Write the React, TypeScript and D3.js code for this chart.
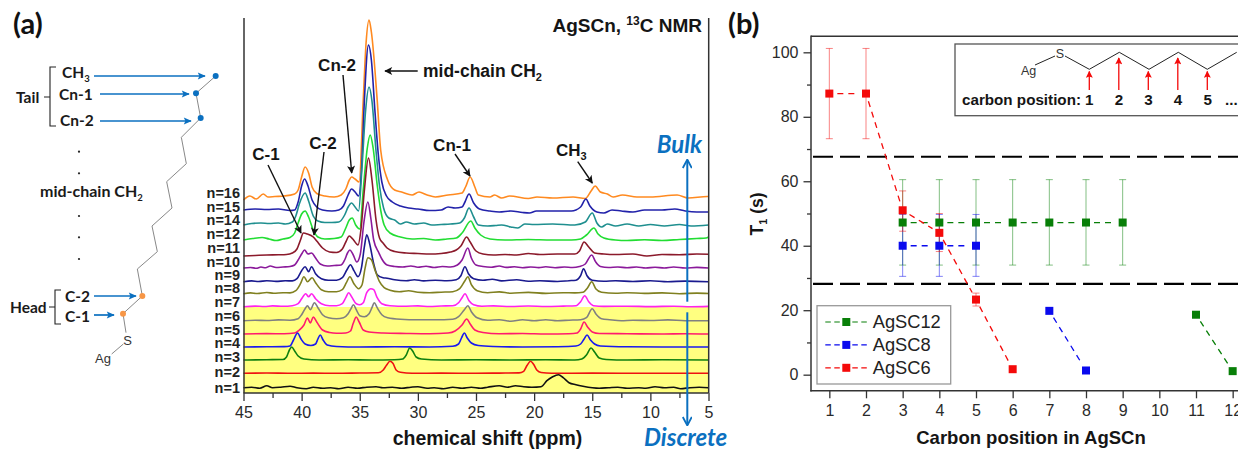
import React, { useEffect, useRef } from 'react';
import * as d3 from 'd3';

// ---- panel (a): 13C NMR spectra, [ppm, intensity above own baseline] ----
const n1 = [[45,0],[44.3,0.5],[43.6,-0.5],[43,2],[42.5,0],[41.8,0.5],[41,1.5],[40.4,0],[39.6,-1],[39,0.5],[38.2,-0.5],[37.5,0],[36.8,-1],[36,0.5],[35.2,-0.5],[34.4,0.5],[33.6,1],[33,0],[32.2,0.5],[31.4,-0.5],[30.6,0.5],[30,1],[29.2,-0.5],[28.6,0],[27.8,-1],[27,0.5],[26.2,-0.5],[25.4,0.5],[24.6,-0.5],[24,0.5],[23,2],[22.3,0.5],[21.6,2],[20.9,1],[20.2,0.5],[19.4,1],[18.9,7],[18.4,11],[17.9,13],[17.5,10],[17,5],[16.4,3],[15.8,1.5],[15,0],[14.4,-0.5],[13.6,0],[12.8,0.5],[12,-0.5],[11,0],[10.4,-0.5],[9.6,1],[8.8,0],[8,0.5],[7.4,-1],[6.6,0],[5.8,0.5],[5,0]];
const n2 = [[45,0],[43,0.3],[41,0],[39,0.2],[37,0],[35,0.3],[33.4,0.5],[33,3],[32.7,8],[32.4,12],[32.15,10],[31.85,3],[31.5,1],[30.5,0],[28,0.2],[25,0],[23,0.2],[21.3,0.4],[20.9,2],[20.6,8],[20.3,12],[20.05,9],[19.75,3],[19.4,0.8],[18.5,0],[15,0.2],[10,0],[5,0]];
const n3 = [[45,0],[43,0.3],[41.6,0.5],[41.3,3],[41.05,10],[40.85,13],[40.6,9],[40.3,4],[39.8,1],[38.5,0],[36,0.2],[34,0],[32,0.3],[31.3,1],[31,5],[30.7,12],[30.45,9],[30.15,3],[29.7,1],[28,0],[25,0.2],[22,0],[19,0.3],[16.5,0],[15.9,1],[15.5,5],[15.1,12],[14.8,8],[14.4,2],[13.8,0.5],[12,0],[9,0.2],[5,0]];
const n4 = [[45,0],[43,0.2],[41.5,0.4],[41,1],[40.7,7],[40.35,14],[40.05,8],[39.7,3],[39.2,1.5],[38.8,3],[38.6,8],[38.4,12],[38.15,7],[37.8,2],[37,0.5],[35,0],[32,0.2],[29,0],[27,0.8],[26.5,3],[26.25,9],[26,14],[25.75,9],[25.4,4],[24.8,1.5],[23.5,0.5],[21,0],[18,0.3],[16.4,1],[16,3],[15.7,8],[15.45,12],[15.15,7],[14.8,3],[14.3,1],[12,0.2],[9,0],[5,0]];
const n5 = [[45,0],[43,0.4],[41.5,0.2],[40.6,1],[40.2,4],[39.8,9],[39.5,16],[39.25,11],[39,17],[38.7,12],[38.2,4],[37.6,1.5],[37,0.8],[36.2,1],[35.8,3],[35.55,11],[35.3,17],[35.05,12],[34.7,4],[34.2,2],[33,1],[31,0.5],[29,0.2],[27.4,1],[26.8,3],[26.2,9],[25.8,15],[25.5,10],[25.1,4],[24.4,1.5],[23,0.3],[21,0.5],[19,0],[17,0.3],[16.3,1],[16,5],[15.7,12],[15.4,7],[15,2],[14.4,0.5],[12,0.3],[9,0],[7,0.3],[5,0]];
const n6 = [[45,0],[44,0.5],[43,0.2],[42,0.8],[41,0.5],[40.3,2],[40,6],[39.7,12],[39.5,15],[39.25,11],[38.9,18],[38.6,13],[38.2,6],[37.7,3],[37,2],[36.4,3],[36,7],[35.75,12],[35.55,16],[35.3,11],[35,5],[34.6,4],[34.2,7],[33.95,13],[33.75,18],[33.5,13],[33.1,6],[32.6,3],[31.5,1.5],[30,1],[28.5,1],[27,1.5],[26.5,4],[26,11],[25.7,15],[25.4,9],[24.9,3],[24,0.5],[23,1],[22,-0.5],[21,1],[20,0],[19,1],[18,0],[17,0.5],[16,1],[15.5,3],[15,12],[14.7,7],[14.2,2],[13.5,1],[12.5,0],[11.5,0.5],[10,0.2],[8.5,0.8],[7,0],[5,0]];
const n7 = [[45,0],[44,0.6],[43.2,0.2],[42.5,0.8],[41.6,0.4],[40.8,1],[40.3,3],[40,8],[39.65,13],[39.4,10],[39.15,13],[38.8,8],[38.3,3],[37.6,1],[37,1],[36.5,3],[36.2,9],[35.95,14],[35.7,10],[35.3,3],[35,2],[34.7,4],[34.4,14],[34.2,17],[34.05,18],[33.8,17],[33.5,9],[33.1,3],[32.4,1],[31,0.5],[30,0.8],[29,0.2],[28,0.7],[27,1],[26.5,4],[26.2,9],[25.95,13],[25.6,6],[25.2,2],[24.5,0.5],[23.5,0.8],[22,0.2],[20.5,0.7],[19,0.2],[17.5,0.6],[16.4,1],[16,5],[15.65,11],[15.3,5],[14.9,1],[14,0.3],[12,0.5],[10,0.1],[8,0.5],[6.5,0],[5,0.3]];
const n8 = [[45,0],[44.4,0.8],[43.8,0.2],[43,1.2],[42.4,0.4],[41.6,1],[41,0.8],[40.5,3],[40.1,10],[39.8,17],[39.5,12],[39.1,16],[38.8,11],[38.3,4],[37.7,2],[37,2],[36.5,4],[36.15,11],[35.85,17],[35.5,10],[35.1,5],[34.8,9],[34.55,25],[34.3,36],[34,34],[33.7,24],[33.3,12],[32.9,6],[32.4,3.5],[31.6,2],[30.8,3],[30,1.5],[29,1],[28,1.5],[27,2],[26.4,5],[25.95,13],[25.7,17],[25.4,9],[24.9,3],[24,1],[23,1.8],[22,0.5],[20.5,1.3],[19,0.3],[17.5,1],[16.5,0.8],[15.8,1.5],[15.4,6],[15.05,12],[14.7,5],[14.2,1.5],[13,0.5],[12,1],[10.5,0.3],[9,0.8],[7.5,0],[6,0.6],[5,0.2]];
const n9 = [[45,0],[44.3,0.8],[43.7,0.2],[43,1],[42.2,0.3],[41.4,0.9],[40.8,0.8],[40.4,3],[40,11],[39.7,15],[39.4,10],[39.15,15],[38.8,8],[38.3,3],[37.7,1.5],[37,1.5],[36.5,4],[36.1,12],[35.8,17],[35.5,11],[35.15,5],[34.85,14],[34.6,35],[34.4,47],[34.15,38],[33.8,18],[33.5,7],[33,4],[32.65,3.5],[32,2],[31,1],[30.3,2],[29.5,0.8],[28.5,1.5],[27.5,1],[26.7,2],[26.3,6],[25.95,15],[25.65,8],[25.2,3],[24.4,1.5],[23.6,2.5],[22.8,0.8],[21.5,2],[20.5,0.5],[19.5,1],[18,0.2],[17,1],[16.4,1.5],[16,6],[15.75,13],[15.45,6],[15,1.5],[14,0.5],[13,1],[11.5,0.2],[10,1],[8.5,0],[7,0.6],[5,0]];
const n10 = [[45,0],[44.4,0.5],[43.9,-0.3],[43.5,1],[43.1,0.2],[42.7,2],[42.2,0.5],[41.6,1],[41,1.5],[40.6,3],[40.3,8],[40,14],[39.75,18],[39.45,14],[39.15,15],[38.8,10],[38.4,4],[37.8,2],[37.2,2.5],[36.6,3],[36.3,8],[36.05,15],[35.85,18],[35.6,14],[35.25,6],[34.95,14],[34.65,45],[34.3,66],[34.05,50],[33.8,28],[33.35,15],[33.1,9],[32.65,3],[32,1.5],[31.3,1],[30.6,2],[30,0.8],[29.3,1.8],[28.6,0.5],[27.9,1.5],[27.2,1],[26.6,3],[26.2,8],[25.7,20],[25.4,10],[25,3],[24.4,1.5],[23.7,0.8],[23,2],[22.4,0.6],[21.7,1.2],[21,0.3],[20.3,1],[19.6,0.4],[19,1.2],[18.2,0.3],[17.4,1],[16.7,0.5],[16.1,1.5],[15.6,4],[15.05,13],[14.7,6],[14.3,1.5],[13.6,0.5],[12.8,1],[12,0.3],[11.2,1],[10.4,0],[9.6,0.8],[8.8,0],[8,1],[7,0],[6,0.6],[5,0]];
const n11 = [[45,-1],[44,-0.5],[43,0],[42,0.2],[41.3,0.5],[40.8,2],[40.4,6],[40.1,15],[39.85,22],[39.5,21],[39,18],[38.7,14],[38.2,7],[37.6,3],[37,2.5],[36.5,6],[36.2,13],[35.9,19],[35.6,16],[35.15,10],[34.9,25],[34.6,65],[34.25,97],[33.95,75],[33.6,35],[33.3,17],[33,12],[32.65,7],[32,3.5],[31,2],[30,1.5],[29,1],[28,1.5],[27.2,3],[26.7,5],[26.3,9],[25.8,18],[25.5,13],[25,4],[24.4,1],[23.5,0],[22.5,0.5],[21.5,0],[20.5,1.5],[19.5,0.5],[18,1],[16.5,1],[16.1,4],[15.7,13],[15.3,8],[14.8,2],[14,1],[13,0.5],[11.5,1],[10.3,-1],[9,0.5],[7.5,0.3],[6,1],[5,0.8]];
const n12 = [[45,0],[44.2,1.5],[43.4,2.5],[42.8,1],[42.2,-0.5],[41.6,1],[41,2.5],[40.6,7],[40.3,17],[40,26],[39.7,29],[39.4,23],[39,10],[38.6,3],[38,1],[37.2,1.5],[36.6,3],[36.2,12],[35.9,20],[35.65,22],[35.35,15],[35,11],[34.7,50],[34.35,92],[34.1,105],[33.85,92],[33.5,55],[33.2,30],[32.9,15],[32.4,7],[31.5,3],[30.5,1],[29.5,1.5],[28.5,0],[27.5,1],[26.7,2],[26.2,7],[25.45,19],[25.1,12],[24.6,5],[23.8,1],[22.5,0],[20.5,0.5],[18.5,0],[16.8,0],[16,1],[15.5,5],[14.85,12],[14.5,6],[14,2],[13,0],[12,-0.5],[10.5,0.3],[9,-0.5],[7.5,0.5],[6,1.5],[5.2,2],[5,3]];
const n14 = [[45,1],[44.3,2.5],[43.5,3],[42.8,2.5],[42,3],[41.4,2],[40.8,4],[40.5,10],[40.2,22],[39.7,33],[39.4,25],[39,10],[38.6,5],[38,3.5],[37.4,3.5],[36.8,4],[36.3,11],[36,19],[35.7,23],[35.4,19],[35.1,15],[34.8,60],[34.5,115],[34.2,139],[33.95,125],[33.6,75],[33.3,40],[32.95,18],[32.5,8],[32,6],[31.5,2],[31,4],[30.3,2],[29.5,3],[28.8,1],[28,1.5],[27.2,2],[26.4,3],[26,8],[25.6,18],[25.2,9],[24.8,1],[24,0],[23.3,0.5],[22.8,1],[22,-1],[21.4,-2],[20.8,2],[20,1.5],[18.4,2],[16.5,1],[15.6,4],[15,13],[14.6,3],[14.2,-1],[13.7,2],[13,0],[12,2],[11,0],[10,1.5],[8.8,0],[7.5,1.5],[6.5,0],[5,1]];
const n15 = [[45,0],[44,1],[43,0.5],[42,1],[41,-0.5],[40.6,0],[40.3,8],[40,24],[39.75,31],[39.45,24],[39.1,10],[38.7,3],[38.2,0],[37.4,-1],[36.8,0],[36.4,4],[36,15],[35.7,21],[35.4,18],[35.1,14],[34.85,40],[34.6,110],[34.25,165],[34,150],[33.7,100],[33.4,55],[33.1,28],[32.7,14],[32.2,8],[31.5,4],[30.8,2],[30,1],[29,-0.5],[28,0],[27.4,3],[26.8,2],[26.2,3],[25.95,8],[25.6,16],[25.2,7],[24.7,1],[23.8,-1],[23,-2],[22,-1],[21,-2.5],[20.4,-3],[19.8,-1],[18.5,-1],[16.8,-1],[16,3],[15.55,11],[15.2,4],[14.6,-2],[14,-3],[13.3,0],[12.5,-1],[11.5,-2],[10.5,0],[9,0],[7.9,1],[7,-1],[6,-2],[5,-2]];
const n16 = [[45,-3],[44.45,1],[43.9,-2],[43.3,3],[42.9,0],[42.3,0.5],[41.5,1],[40.6,3],[40.3,7],[40,20],[39.7,30],[39.4,24],[39.1,10],[38.7,3.5],[38,1],[37.2,0],[36.6,2],[36.2,8],[35.9,17],[35.7,20],[35.4,18],[35.05,15],[34.7,97],[34.45,155],[34.2,177],[34,165],[33.5,97],[33.2,47],[32.6,17],[32,7],[31.4,5],[30.5,2],[29.9,5],[29.2,2],[28.5,0],[27.4,2],[26.2,4],[25.9,10],[25.5,20],[25.1,10],[24.8,2],[23.8,0],[23.4,2],[22.8,-1],[22.1,1],[20.5,-1.5],[19.75,0],[18.4,-1],[16.65,0],[15.6,-1.5],[15.1,6],[14.75,11],[14.3,5],[13.7,3],[13.2,0],[12.4,2],[11.15,0],[10,0],[7.7,2],[6.75,-1],[5.1,0.5],[5,0.5]];

const spectra = [n1, n2, n3, n4, n5, n6, n7, n8, n9, n10, n11, n12, n14, n15, n16];
const spectrumNames = ['n=1', 'n=2', 'n=3', 'n=4', 'n=5', 'n=6', 'n=7', 'n=8', 'n=9', 'n=10', 'n=11', 'n=12', 'n=14', 'n=15', 'n=16'];
const spectrumOffsets = [0, 14.4, 27.7, 40.7, 53.7, 67, 81, 94, 106, 119.7, 132.7, 147.7, 161.7, 177.7, 190.7];
const labelLift = [0, 1.6, 2.7, 3.7, 4, 4.7, 5, 5.4, 6.7, 5.7, 7.3, 6, 6, 3.3, 4.3];
const spectrumColors = ['#111111', '#ee1111', '#0f7f0f', '#1a1aee', '#ff1a6e', '#808080', '#ff22ee', '#808020', '#1a1a8f', '#8b1a9b', '#8b1a2b', '#22dd33', '#1f8f8f', '#2222aa', '#ff8a20'];
const ppmMajor = [45, 40, 35, 30, 25, 20, 15, 10, 5];
const ppmMinor = [42.5, 37.5, 32.5, 27.5, 22.5, 17.5, 12.5, 7.5];

// ---- panel (b): T1 against carbon position ----
type Pt = { c: number; t: number; lo?: number; hi?: number };
const agsc12: Pt[][] = [
  [3, 4, 5, 6, 7, 8, 9].map(c => ({ c, t: 47.2, lo: 34, hi: 60.5 })),
  [{ c: 11, t: 18.6 }, { c: 12, t: 1.1 }],
];
const agsc8: Pt[][] = [
  [3, 4, 5].map(c => ({ c, t: 40, lo: 30.5, hi: 49.7 })),
  [{ c: 7, t: 19.8 }, { c: 8, t: 1.3 }],
];
const agsc6: Pt[][] = [[
  { c: 1, t: 87.2, lo: 73.2, hi: 101.2 },
  { c: 2, t: 87.2, lo: 73.2, hi: 101.2 },
  { c: 3, t: 51, lo: 44.5, hi: 57 },
  { c: 4, t: 44, lo: 38.2, hi: 50 },
  { c: 5, t: 23.3, lo: 21.3, hi: 25.3 },
  { c: 6, t: 1.7 },
]];
const seriesB = [
  { name: 'AgSC12', color: '#087f08', groups: agsc12 },
  { name: 'AgSC8', color: '#0a0aee', groups: agsc8 },
  { name: 'AgSC6', color: '#f40a0a', groups: agsc6 },
];
const regionLimits = [67.6, 28.2];
const t1Major = [0, 20, 40, 60, 80, 100];
const t1Minor = [10, 30, 50, 70, 90];
const positions = [1, 2, 3, 4, 5, 6, 7, 8, 9, 10, 11, 12];

const ARIAL = '"Liberation Sans", Arial, sans-serif';
const LATO = 'Lato, "Open Sans", sans-serif';
const BLUE = '#0b70c0';
const DARK = '#2a2a2a';

const xA = d3.scaleLinear().domain([45, 5]).range([243.5, 708.5]);
const yA = d3.scaleLinear().domain([0, 370]).range([387.7, 17.7]);
const xB = d3.scaleLinear().domain([0.5, 12.2]).range([811, 1240]);
const yB = d3.scaleLinear().domain([-5, 105]).range([390.8, 36.2]);

const Arrow = ({ x1, y1, x2, y2, color = '#111', w = 1.4, head = 'ah' }: any) => (
  <line x1={x1} y1={y1} x2={x2} y2={y2} stroke={color} strokeWidth={w} markerEnd={`url(#${head})`} />
);

// chain of the molecule sketch on the left, in zoomed reference pixels
const chain = [[369, 941], [427, 888], [412, 807], [472, 755], [456, 678], [516, 624], [500, 545], [559, 491], [544, 412], [602, 354], [588, 280], [647, 228]].map(([x, y]) => [x / 3, y / 3]);
const tailDots = [chain[9], chain[10], chain[11]];
const headDots = [chain[0], chain[1]];

const App = () => {
  const axesRef = useRef<SVGGElement>(null);

  useEffect(() => {
    const root = d3.select(axesRef.current);
    root.selectAll('*').remove();

    const style = (g: any, size: number) => {
      g.attr('font-family', ARIAL).attr('font-size', size);
      g.selectAll('text').attr('fill', DARK);
      g.selectAll('line').attr('stroke', '#333').attr('stroke-width', 1.3);
      g.select('.domain').remove();
    };

    // panel (a) axes
    root.append('g').attr('transform', 'translate(0,393)')
      .call(d3.axisBottom(xA).tickValues(ppmMajor).tickFormat(d3.format('d') as any).tickSize(8).tickPadding(6))
      .call(style, 16);
    root.append('g').attr('transform', 'translate(0,393)')
      .call(d3.axisBottom(xA).tickValues(ppmMinor).tickFormat(() => '').tickSize(5))
      .call(style, 16);

    // panel (b) axes
    root.append('g').attr('transform', 'translate(0,390.8)')
      .call(d3.axisBottom(xB).tickValues(positions).tickFormat(d3.format('d') as any).tickSize(7.5).tickPadding(6))
      .call(style, 16);
    root.append('g').attr('transform', 'translate(811,0)')
      .call(d3.axisLeft(yB).tickValues(t1Major).tickFormat(d3.format('d') as any).tickSize(7.5).tickPadding(5))
      .call(style, 16);
    root.append('g').attr('transform', 'translate(811,0)')
      .call(d3.axisLeft(yB).tickValues(t1Minor).tickFormat(() => '').tickSize(4))
      .call(style, 16);
  }, []);

  const spectrumLine = d3.line<number[]>()
    .x(d => xA(d[0]))
    .y(d => d[1])
    .curve(d3.curveMonotoneX);

  const chainLine = d3.line();

  return (
    <svg width={1238} height={449} style={{ position: 'absolute', left: 0, top: 0, background: '#fff' }}>
      <defs>
        <marker id="ah" viewBox="0 0 10 10" refX="9" refY="5" markerWidth="11" markerHeight="8" orient="auto" markerUnits="userSpaceOnUse">
          <path d="M0,0L10,5L0,10L2.5,5Z" fill="#111" />
        </marker>
        <marker id="ahBlue" viewBox="0 0 10 10" refX="9" refY="5" markerWidth="9" markerHeight="8" orient="auto" markerUnits="userSpaceOnUse">
          <path d="M0,0.5L10,5L0,9.5L2,5Z" fill={BLUE} />
        </marker>
        <marker id="ahOpen" viewBox="0 0 10 10" refX="9" refY="5" markerWidth="10" markerHeight="10" orient="auto" markerUnits="userSpaceOnUse">
          <path d="M1,0.5L9.5,5L1,9.5" fill="none" stroke={BLUE} strokeWidth="1.8" />
        </marker>
        <marker id="ahRed" viewBox="0 0 10 10" refX="9" refY="5" markerWidth="9" markerHeight="7" orient="auto" markerUnits="userSpaceOnUse">
          <path d="M0,0L10,5L0,10L2,5Z" fill="#f40a0a" />
        </marker>
      </defs>

      {/* ---- panel (a) ---- */}
      <rect x={xA(45)} y={307} width={xA(5) - xA(45)} height={86} fill="#ffff80" />
      {spectra.map((s, i) => ({ s, i })).reverse().map(({ s, i }) => (
        <path
          key={spectrumNames[i]}
          d={spectrumLine(s.map(d => [d[0], yA(spectrumOffsets[i] + d[1])])) as string}
          fill="none"
          stroke={spectrumColors[i]}
          strokeWidth={1.6}
          strokeLinejoin="round"
        />
      ))}
      {spectrumNames.map((name, i) => (
        <text key={name} x={240} y={yA(spectrumOffsets[i]) - labelLift[i]} dy="0.35em" textAnchor="end"
          fontFamily={ARIAL} fontSize={14.5} fontWeight={700} fill="#222">{name}</text>
      ))}
      <line x1={244} y1={18} x2={244} y2={393} stroke="#333" strokeWidth={1.5} />
      <line x1={708.7} y1={18} x2={708.7} y2={393} stroke="#333" strokeWidth={1.5} />
      <line x1={243.5} y1={393} x2={708.5} y2={393} stroke="#333" strokeWidth={1.5} />

      <g fontFamily={ARIAL} fontWeight={700} fill="#151515" fontSize={17}>
        <text x={702} y={32} textAnchor="end" fontSize={19}>AgSCn, <tspan fontSize={12} dy={-7}>13</tspan><tspan dy={7}>C NMR</tspan></text>
        <text x={423} y={77} fontSize={17.5}>mid-chain CH<tspan fontSize={11} dy={4}>2</tspan></text>
        <text x={337} y={71} textAnchor="middle">Cn-2</text>
        <text x={323} y={149} textAnchor="middle">C-2</text>
        <text x={266} y={160} textAnchor="middle">C-1</text>
        <text x={452} y={151} textAnchor="middle">Cn-1</text>
        <text x={556} y={156}>CH<tspan fontSize={11} dy={4}>3</tspan></text>
        <text x={487.5} y={445} textAnchor="middle" fontSize={19.5}>chemical shift (ppm)</text>
      </g>
      <Arrow x1={417.7} y1={71} x2={385} y2={71} />
      <Arrow x1={343} y1={75} x2={351.7} y2={173} />
      <Arrow x1={324} y1={152} x2={314} y2={235} />
      <Arrow x1={268} y1={165} x2={301} y2={233} />
      <Arrow x1={455} y1={154} x2={470} y2={176} />
      <Arrow x1={577.7} y1={161.7} x2={592.3} y2={183} />

      <Arrow x1={687.3} y1={301.7} x2={687.3} y2={160} color={BLUE} w={2} head="ahOpen" />
      <Arrow x1={687.3} y1={312.3} x2={687.3} y2={425} color={BLUE} w={2} head="ahOpen" />
      <g fontFamily={LATO} fontWeight={700} fontStyle="italic" fill={BLUE} fontSize={24}>
        <text x={702} y={153} textAnchor="end">Bulk</text>
        <text x={644} y={446}>Discrete</text>
      </g>

      {/* molecule sketch */}
      <path d={chainLine(chain as any) as string} fill="none" stroke="#888" strokeWidth={1} />
      <line x1={369 / 3} y1={941 / 3} x2={378 / 3} y2={998 / 3} stroke="#888" strokeWidth={1} />
      <line x1={335 / 3} y1={1062 / 3} x2={370 / 3} y2={1032 / 3} stroke="#888" strokeWidth={1} />
      {tailDots.map(([x, y], i) => <circle key={i} cx={x} cy={y} r={3} fill={BLUE} />)}
      {headDots.map(([x, y], i) => <circle key={i} cx={x} cy={y} r={3} fill="#f79646" />)}
      <g fontFamily={ARIAL} fontSize={13} fill="#333" textAnchor="middle">
        <text x={127.7} y={344.5}>S</text>
        <text x={103} y={362.5}>Ag</text>
      </g>
      <g fontFamily={LATO} fontWeight={700} fontSize={15.5} fill="#1a1a1a">
        <text x={62} y={78}>CH<tspan fontSize={9.5} dy={4}>3</tspan></text>
        <text x={59} y={100}>Cn-1</text>
        <text x={60} y={126}>Cn-2</text>
        <text x={16} y={103}>Tail</text>
        <text x={40} y={197} fontSize={16}>mid-chain CH<tspan fontSize={9.5} dy={4}>2</tspan></text>
        <text x={65} y={302}>C-2</text>
        <text x={65} y={322}>C-1</text>
        <text x={10} y={313}>Head</text>
      </g>
      {[455, 520, 648, 712, 777].map(y => <circle key={y} cx={79} cy={y / 3} r={1.1} fill="#222" />)}
      <g fill="none" stroke="#222" strokeWidth={1.1}>
        <path d="M56,67H50V126H56M44,97H50" />
        <path d="M61,290H55V324H61M49,307H55" />
      </g>
      <g stroke={BLUE} strokeWidth={1.7}>
        <Arrow x1={94} y1={76} x2={205} y2={76} color={BLUE} w={1.7} head="ahBlue" />
        <Arrow x1={100} y1={94} x2={189} y2={94} color={BLUE} w={1.7} head="ahBlue" />
        <Arrow x1={100} y1={121} x2={191} y2={121} color={BLUE} w={1.7} head="ahBlue" />
        <Arrow x1={94} y1={296} x2={136} y2={296} color={BLUE} w={1.7} head="ahBlue" />
        <Arrow x1={94} y1={315} x2={114} y2={315} color={BLUE} w={1.7} head="ahBlue" />
      </g>

      {/* panel letters */}
      <text x={13} y={34} fontFamily={LATO} fontWeight={700} fontSize={29} fill="#111">(a)</text>
      <text x={728} y={34} fontFamily={LATO} fontWeight={700} fontSize={29} fill="#111">(b)</text>

      {/* ---- panel (b) ---- */}
      <line x1={811} y1={36.2} x2={1238} y2={36.2} stroke="#333" strokeWidth={1.5} />
      <line x1={811} y1={35.5} x2={811} y2={391.5} stroke="#333" strokeWidth={1.5} />
      <line x1={810.3} y1={390.8} x2={1238} y2={390.8} stroke="#333" strokeWidth={1.5} />

      {regionLimits.map(v => (
        <line key={v} x1={813} x2={1238} y1={yB(v)} y2={yB(v)} stroke="#000" strokeWidth={2.2} strokeDasharray="20 7" />
      ))}

      {seriesB.map(s => (
        <g key={s.name} stroke={s.color} strokeOpacity={0.5} strokeWidth={1}>
          {s.groups.flat().filter(p => p.hi != null).map(p => (
            <g key={p.c}>
              <line x1={xB(p.c)} x2={xB(p.c)} y1={yB(p.lo!)} y2={yB(p.hi!)} />
              <line x1={xB(p.c) - 3.5} x2={xB(p.c) + 3.5} y1={yB(p.lo!)} y2={yB(p.lo!)} />
              <line x1={xB(p.c) - 3.5} x2={xB(p.c) + 3.5} y1={yB(p.hi!)} y2={yB(p.hi!)} />
            </g>
          ))}
        </g>
      ))}
      {seriesB.map(s => (
        <g key={s.name}>
          {s.groups.map(g => d3.pairs(g).map(([a, b]) => {
            const x1 = xB(a.c), y1 = yB(a.t), x2 = xB(b.c), y2 = yB(b.t);
            const len = Math.hypot(x2 - x1, y2 - y1);
            const ux = (x2 - x1) / len, uy = (y2 - y1) / len;
            return (
              <line key={a.c} x1={x1 + ux * 8} y1={y1 + uy * 8} x2={x2 - ux * 8} y2={y2 - uy * 8}
                stroke={s.color} strokeWidth={1.3} strokeDasharray="6 5" />
            );
          }))}
          {s.groups.flat().map(p => (
            <rect key={p.c} x={xB(p.c) - 4} y={yB(p.t) - 4} width={8} height={8} fill={s.color} />
          ))}
        </g>
      ))}

      {/* legend */}
      <rect x={817} y={305.7} width={133.7} height={78.3} fill="#fff" stroke="#999" strokeWidth={1.3} />
      {seriesB.map((s, i) => {
        const y = 322 + i * 22.9;
        return (
          <g key={s.name}>
            <line x1={825.3} x2={867.7} y1={y} y2={y} stroke={s.color} strokeWidth={1.2} strokeDasharray="5.5 3.5" />
            <rect x={842.3} y={y - 4} width={8} height={8} fill={s.color} />
            <text x={872.7} y={y} dy="0.35em" fontFamily={ARIAL} fontSize={18.3} fill="#222">{s.name}</text>
          </g>
        );
      })}

      {/* inset */}
      <rect x={955} y={44} width={290} height={71.7} fill="#fff" stroke="#555" strokeWidth={1.3} />
      <path d="M1035,65L1055,56M1065,56L1089.3,69.3L1119.3,52.3L1149,69.3L1178.3,52.3L1207.3,69.3L1236.7,52.3" fill="none" stroke="#222" strokeWidth={1} />
      <text x={1021} y={75} fontFamily={ARIAL} fontSize={12.5} fill="#333">Ag</text>
      <text x={1060} y={57.5} textAnchor="middle" fontFamily={ARIAL} fontSize={12.5} fill="#333">S</text>
      {[1, 2, 3, 4, 5].map(k => {
        const x = 1089.3 + (k - 1) * 29.5;
        return <Arrow key={k} x1={x} y1={90} x2={x} y2={k % 2 ? 71.5 : 58} color="#f40a0a" w={1.3} head="ahRed" />;
      })}
      <g fontFamily={ARIAL} fontWeight={700} fontSize={15.2} fill="#151515">
        <text x={962} y={105}>carbon position:</text>
        {[1, 2, 3, 4, 5].map(k => (
          <text key={k} x={1089.3 + (k - 1) * 29.6} y={105} textAnchor="middle">{k}</text>
        ))}
        <text x={1225} y={105}>...</text>
      </g>

      <g fontFamily={ARIAL} fontWeight={700} fill="#151515">
        <text x={1031} y={444} textAnchor="middle" fontSize={18.5}>Carbon position in AgSCn</text>
        <text transform="translate(763,214) rotate(-90)" textAnchor="middle" fontSize={17.5}>T<tspan fontSize={11} dy={4}>1</tspan><tspan dy={-4}> (s)</tspan></text>
      </g>

      <g ref={axesRef} />
    </svg>
  );
};

export default App;
